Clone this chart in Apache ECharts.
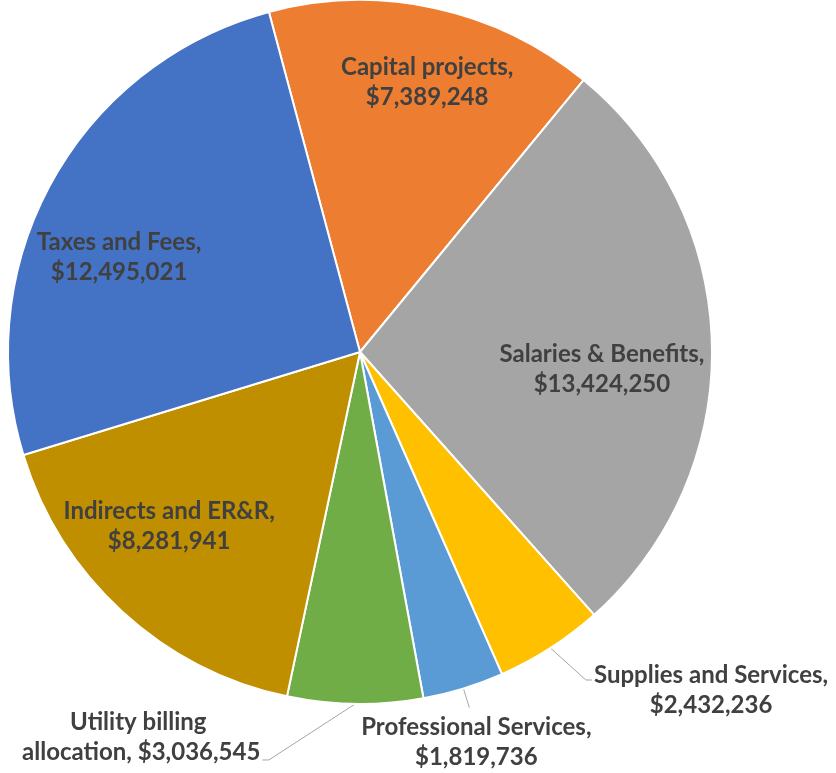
<!DOCTYPE html>
<html><head><meta charset="utf-8">
<script src="https://cdn.jsdelivr.net/npm/echarts@6/dist/echarts.min.js"></script>
<style>html,body{margin:0;padding:0;background:#fff}#c{width:836px;height:773px}</style>
</head><body><div id="c"></div>
<script>
const categories = ['Capital projects', 'Salaries & Benefits', 'Supplies and Services', 'Professional Services', 'Utility billing allocation', 'Indirects and ER&R', 'Taxes and Fees'];
const values = [7389248, 13424250, 2432236, 1819736, 3036545, 8281941, 12495021];
const colors = ['#ED7D31', '#A5A5A5', '#FFC000', '#5B9BD5', '#70AD47', '#BF8F00', '#4472C4'];
const insideLabel = [true, true, false, false, false, true, true];
// where the label text wraps (Excel wrapping)
const wraps = { 'Utility billing allocation': ['Utility billing ', 'allocation, '] };

// style-only tuning (label nudges, leader lines)
const insideNudge = { 0: [13, -20], 1: [-14, 22], 5: [-18, -15], 6: [-17, 29] };
const outsideStyle = {
  2: { labelLine: { length: 38, length2: 21, minTurnAngle: 138 }, label: { padding: [20, 0, 0, 0], distanceToLabelLine: 2 } },
  3: { labelLine: { length: 20, length2: 0 }, label: { padding: [5, 0, 0, 0], distanceToLabelLine: 7 } },
  4: { labelLine: { length: 56, length2: 92, minTurnAngle: 147 }, label: { padding: [0, 0, 46, 0], distanceToLabelLine: 2 } }
};

const FONT = 'Lato';
const fmt = v => '$' + v.toLocaleString('en-US');
function labelText(name, value) {
  const w = wraps[name];
  const lines = w ? [w[0], w[1] + fmt(value)] : [name + ',', fmt(value)];
  return lines.map(l => '{t|' + l + '}').join('\n');
}
const rich = { t: { align: 'center', fontFamily: FONT, fontSize: 24, fontWeight: 'bold', color: '#404040', lineHeight: 30 } };

const chart = echarts.init(document.getElementById('c'), null, { renderer: 'canvas' });
chart.setOption({
  animation: false,
  backgroundColor: '#fff',
  series: [
    {
      type: 'pie',
      center: [360, 352],
      radius: [0, 352],
      startAngle: 105,
      clockwise: true,
      avoidLabelOverlap: false,
      itemStyle: { borderColor: '#fff', borderWidth: 2 },
      label: { show: true, position: 'outside', formatter: p => labelText(p.name, p.value), rich: rich, color: '#404040' },
      labelLine: { show: true, lineStyle: { color: '#A6A6A6', width: 1 } },
      emphasis: { disabled: true },
      labelLayout: function (p) {
        if (p.dataIndex === 3) return { align: 'center', verticalAlign: 'top' };
        return {};
      },
      data: categories.map((c, i) => {
        const d = { name: c, value: values[i], itemStyle: { color: colors[i] } };
        if (insideLabel[i]) {
          d.label = { show: false };
          d.labelLine = { show: false };
        } else {
          d.label = Object.assign({ show: true }, outsideStyle[i].label);
          d.labelLine = Object.assign({ show: true }, outsideStyle[i].labelLine);
        }
        return d;
      })
    },
    {
      type: 'pie',
      center: [360, 352],
      radius: [150, 356],
      startAngle: 105,
      clockwise: true,
      silent: true,
      z: 5,
      avoidLabelOverlap: false,
      itemStyle: { color: 'rgba(0,0,0,0)', borderWidth: 0 },
      label: { show: true, position: 'inside', formatter: p => labelText(p.name, p.value), rich: rich, color: '#404040' },
      labelLine: { show: false },
      emphasis: { disabled: true },
      labelLayout: function (p) {
        const n = insideNudge[p.dataIndex];
        return n ? { dx: n[0], dy: n[1] } : {};
      },
      data: categories.map((c, i) => ({ name: c, value: values[i], label: { show: insideLabel[i] } }))
    }
  ]
});
</script>
</body></html>
